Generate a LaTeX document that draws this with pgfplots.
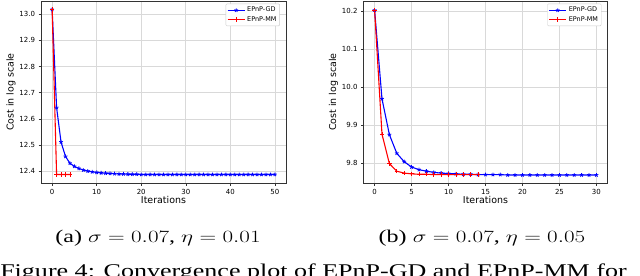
\documentclass[border=0pt]{standalone}
\usepackage{pgfplots}
\pgfplotsset{compat=1.18}
\usepackage{fontspec}
\setmainfont{Liberation Serif}
\newfontfamily\dejavu{DejaVu Sans}
\begin{document}
\begin{tikzpicture}[x=1bp,y=1bp]
\clip (0,0) rectangle (640,275);
\useasboundingbox (0,0) rectangle (640,275);
\pgfplotsset{
  convstyle/.style={
    scale only axis,
    width=245bp, height=182bp,
    axis line style={black!80, line width=0.6pt},
    grid=major,
    grid style={gray!30, line width=0.6pt},
    tick align=outside,
    tick pos=left,
    major tick length=2.5bp,
    tick style={black!80, line width=0.5pt},
    ticklabel style={font=\dejavu\fontsize{7}{8}\selectfont},
    /pgf/number format/assume math mode=true,
    label style={font=\dejavu\fontsize{9.5}{11}\selectfont},
    xlabel={Iterations},
    ylabel={Cost in log scale},
    xlabel style={yshift=4.5bp},
    ylabel style={yshift=-3bp},
    legend cell align=left,
    legend style={font=\dejavu\fontsize{6.5}{7.5}\selectfont, draw=gray!40, rounded corners=1pt,
      at={(0.975,0.985)}, anchor=north east, inner sep=1.2pt, row sep=-1pt},
  },
  gd/.style={blue, line width=1.1pt, mark=star, mark size=2pt, mark options={solid, blue, line width=0.8pt}},
  mm/.style={red, line width=1.1pt, mark=+, mark size=2.2pt, mark options={solid, red, line width=0.8pt}},
}
\begin{axis}[convstyle, at={(41bp,92bp)}, anchor=south west,
  xmin=-2.5, xmax=52.5, ymin=12.3545, ymax=13.0505,
  xtick={0,10,20,30,40,50}, ytick={12.4,12.5,12.6,12.7,12.8,12.9,13.0},
  yticklabel style={/pgf/number format/.cd, fixed, fixed zerofill, precision=1}]
\addplot[gd] coordinates {
(0,13.018) (1,12.643) (2,12.511) (3,12.456) (4,12.430) (5,12.418) (6,12.410) (7,12.404) (8,12.400) (9,12.397)
(10,12.395) (11,12.393) (12,12.392) (13,12.391) (14,12.390) (15,12.389) (16,12.389) (17,12.388) (18,12.388) (19,12.388)
(20,12.387) (21,12.387) (22,12.387) (23,12.387) (24,12.387) (25,12.387) (26,12.387) (27,12.387) (28,12.387) (29,12.387)
(30,12.387) (31,12.387) (32,12.387) (33,12.387) (34,12.387) (35,12.387) (36,12.387) (37,12.387) (38,12.387) (39,12.387)
(40,12.387) (41,12.387) (42,12.387) (43,12.387) (44,12.387) (45,12.387) (46,12.387) (47,12.387) (48,12.387) (49,12.387) (50,12.387)};
\addlegendentry{EPnP-GD}
\addplot[mm] coordinates {(0,13.018) (1,12.387) (2,12.387) (3,12.387) (4,12.387)};
\addlegendentry{EPnP-MM}
\end{axis}
\begin{axis}[convstyle, at={(363.5bp,92bp)}, anchor=south west, width=244bp,
  xmin=-1.5, xmax=31.5, ymin=9.748, ymax=10.226,
  xtick={0,5,10,15,20,25,30}, ytick={9.8,9.9,10.0,10.1,10.2},
  yticklabel style={/pgf/number format/.cd, fixed, fixed zerofill, precision=1}]
\addplot[gd] coordinates {
(0,10.202) (1,9.969) (2,9.875) (3,9.826) (4,9.804) (5,9.790) (6,9.783) (7,9.779) (8,9.776) (9,9.774)
(10,9.773) (11,9.772) (12,9.771) (13,9.771) (14,9.770) (15,9.770) (16,9.770) (17,9.770) (18,9.769) (19,9.769)
(20,9.769) (21,9.769) (22,9.769) (23,9.769) (24,9.769) (25,9.769) (26,9.769) (27,9.769) (28,9.769) (29,9.769) (30,9.769)};
\addlegendentry{EPnP-GD}
\addplot[mm] coordinates {
(0,10.202) (1,9.876) (2,9.799) (3,9.779) (4,9.774) (5,9.772) (6,9.771) (7,9.771) (8,9.770) (9,9.770)
(10,9.770) (11,9.770) (12,9.770) (13,9.770) (14,9.770)};
\addlegendentry{EPnP-MM}
\end{axis}
\node[anchor=base, inner sep=0pt, xscale=1.34, font=\fontsize{18}{22}\selectfont] at (158,33) {(a) $\sigma = 0.07$, $\eta = 0.01$};
\node[anchor=base, inner sep=0pt, xscale=1.34, font=\fontsize{18}{22}\selectfont] at (482,33) {(b) $\sigma = 0.07$, $\eta = 0.05$};
\node[anchor=base west, inner sep=0pt, xscale=1.34, font=\fontsize{19.5}{23}\selectfont] at (0,-2) {Figure 4: Convergence plot of EPnP-GD and EPnP-MM for};
\end{tikzpicture}
\end{document}
